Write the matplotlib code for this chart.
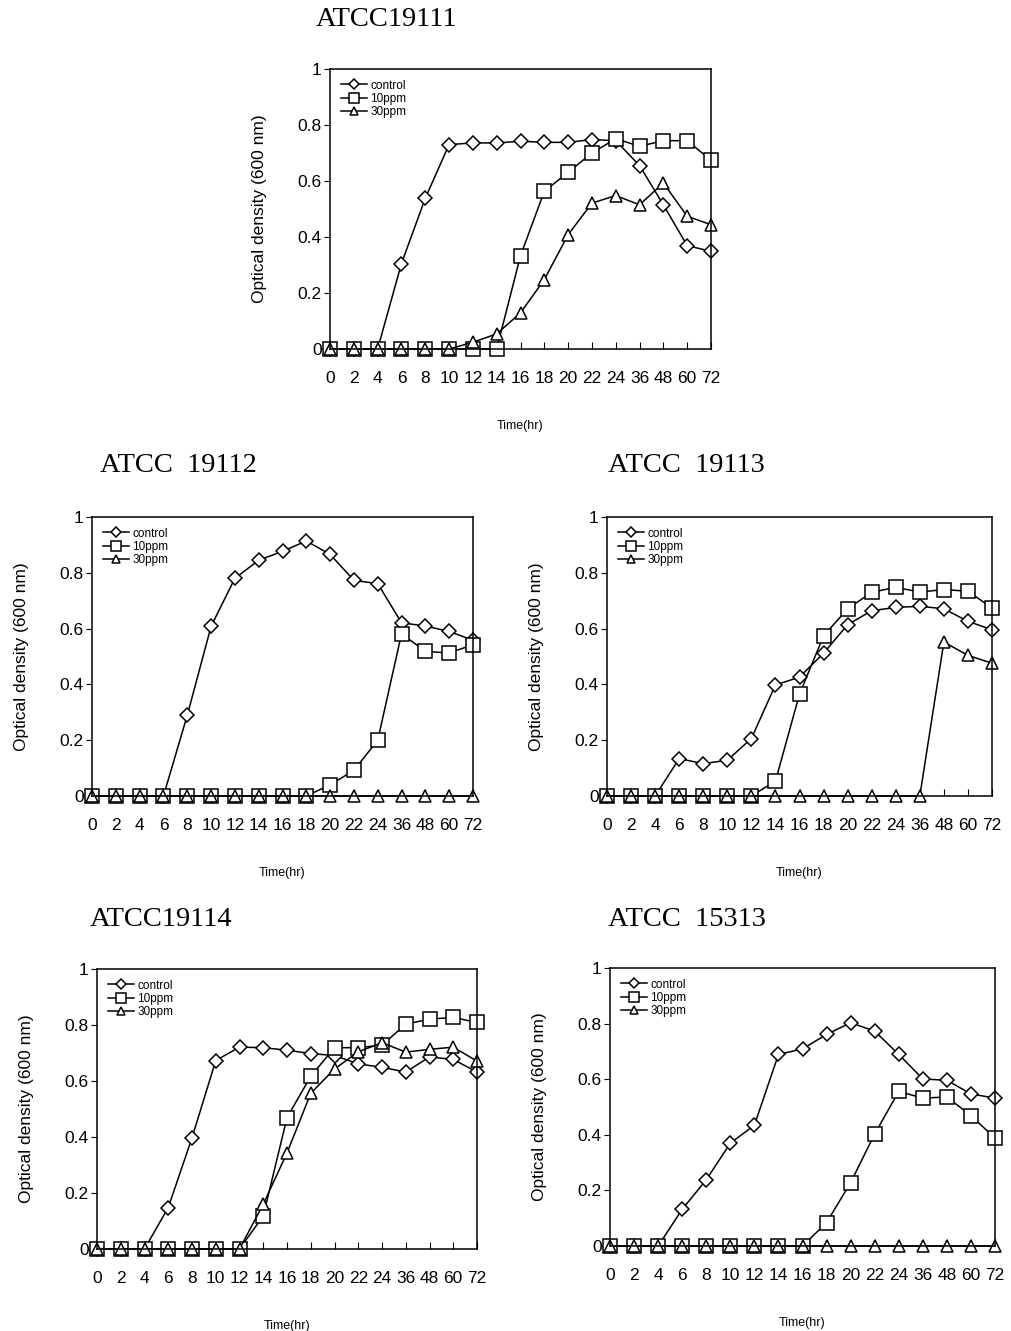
import numpy as np
import matplotlib
matplotlib.use("Agg")
import matplotlib.pyplot as plt

# eixo x: tempos de coleta (categorias igualmente espaçadas)
tempos = ['0', '2', '4', '6', '8', '10', '12', '14', '16', '18', '20', '22', '24', '36', '48', '60', '72']
series = ['control', '10ppm', '30ppm']

# ATCC19111
c_19111 = [0, 0, 0, 0.305, 0.538, 0.73, 0.736, 0.736, 0.742, 0.738, 0.738, 0.748, 0.744, 0.655, 0.515, 0.369, 0.349]
p10_19111 = [0, 0, 0, 0, 0, 0, 0, 0, 0.333, 0.563, 0.631, 0.70, 0.751, 0.724, 0.744, 0.744, 0.674]
p30_19111 = [0, 0, 0, 0, 0, 0, 0.024, 0.054, 0.129, 0.248, 0.408, 0.521, 0.548, 0.515, 0.593, 0.474, 0.444]

# ATCC 19112
c_19112 = [0, 0, 0, 0, 0.289, 0.608, 0.78, 0.845, 0.877, 0.914, 0.866, 0.773, 0.761, 0.621, 0.609, 0.59, 0.558]
p10_19112 = [0, 0, 0, 0, 0, 0, 0, 0, 0, 0, 0.04, 0.092, 0.2, 0.582, 0.518, 0.513, 0.542]
p30_19112 = [0, 0, 0, 0, 0, 0, 0, 0, 0, 0, 0, 0, 0, 0, 0, 0, 0]

# ATCC 19113
c_19113 = [0, 0, 0, 0.134, 0.116, 0.128, 0.206, 0.398, 0.426, 0.512, 0.614, 0.664, 0.676, 0.68, 0.671, 0.626, 0.596]
p10_19113 = [0, 0, 0, 0, 0, 0, 0, 0.053, 0.365, 0.574, 0.671, 0.73, 0.748, 0.731, 0.74, 0.734, 0.674]
p30_19113 = [0, 0, 0, 0, 0, 0, 0, 0, 0, 0, 0, 0, 0, 0, 0.552, 0.504, 0.476]

# ATCC19114
c_19114 = [0, 0, 0, 0.148, 0.397, 0.673, 0.721, 0.719, 0.71, 0.698, 0.691, 0.661, 0.649, 0.632, 0.686, 0.677, 0.632]
p10_19114 = [0, 0, 0, 0, 0, 0, 0, 0.118, 0.469, 0.617, 0.719, 0.719, 0.728, 0.803, 0.821, 0.827, 0.809]
p30_19114 = [0, 0, 0, 0, 0, 0, 0, 0.16, 0.343, 0.556, 0.643, 0.704, 0.737, 0.703, 0.713, 0.721, 0.671]

# ATCC 15313
c_15313 = [0, 0, 0, 0.132, 0.238, 0.37, 0.434, 0.689, 0.709, 0.761, 0.803, 0.773, 0.689, 0.601, 0.596, 0.547, 0.532]
p10_15313 = [0, 0, 0, 0, 0, 0, 0, 0, 0, 0.084, 0.228, 0.403, 0.556, 0.532, 0.536, 0.469, 0.388]
p30_15313 = [0, 0, 0, 0, 0, 0, 0, 0, 0, 0, 0, 0, 0, 0, 0, 0, 0]

W, H = 1011, 1331
fig = plt.figure(figsize=(W / 100, H / 100), dpi=100)

# (titulo, posicao do titulo em px, dados, caixa do eixo em pixels: esquerda, topo, direita, base)
paineis = [
    ('ATCC19111', (316, 20), (c_19111, p10_19111, p30_19111), (330, 69, 711, 349)),
    ('ATCC  19112', (100, 465), (c_19112, p10_19112, p30_19112), (92, 517, 473, 796)),
    ('ATCC  19113', (608, 465), (c_19113, p10_19113, p30_19113), (607, 517, 992, 796)),
    ('ATCC19114', (90, 920), (c_19114, p10_19114, p30_19114), (97, 969, 477, 1249)),
    ('ATCC  15313', (608, 920), (c_15313, p10_15313, p30_15313), (610, 968, 995, 1246)),
]

marcadores = ['D', 's', '^']
tamanhos = [7.5, 10, 9]
x = np.arange(len(tempos))

for titulo, (tx, ty), dados, (l, t, r, b) in paineis:
    ax = fig.add_axes([l / W, 1 - b / H, (r - l) / W, (b - t) / H])
    for nome, y, m, ms in zip(series, dados, marcadores, tamanhos):
        ax.plot(x, y, color='black', lw=1.1, marker=m, ms=ms,
                mfc='white', mec='black', mew=1.1, label=nome, clip_on=False)
    ax.set_xlim(0, len(tempos) - 1)
    ax.set_ylim(0, 1)
    ax.set_xticks(x)
    ax.set_xticklabels(tempos, family='Liberation Sans', fontsize=12.5)
    ax.set_yticks([0, 0.2, 0.4, 0.6, 0.8, 1])
    ax.set_yticklabels(['0', '0.2', '0.4', '0.6', '0.8', '1'], family='Liberation Sans', fontsize=12.5)
    ax.tick_params(axis='x', direction='in', length=5, pad=16)
    ax.tick_params(axis='y', direction='out', length=4, pad=2)
    for s in ax.spines.values():
        s.set_linewidth(1.1)
    ax.set_ylabel('Optical density (600 nm)', family='Liberation Sans', fontsize=12.5, labelpad=22)
    ax.set_xlabel('Time(hr)', family='Liberation Sans', fontsize=9, labelpad=24)
    fig.text(tx / W, 1 - ty / H, titulo, family='Liberation Serif', fontsize=20.5,
             ha='left', va='center')
    ax.legend(loc='upper left', frameon=False, handlelength=2.2,
              handletextpad=0.3, labelspacing=0.1, borderaxespad=0.5,
              prop={'family': 'Liberation Sans', 'size': 8.5}, markerscale=0.7)

plt.savefig('out.png', dpi=100)
